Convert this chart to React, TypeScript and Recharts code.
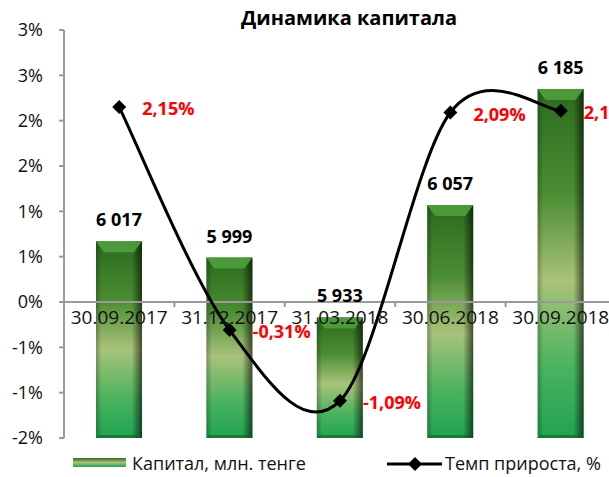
import React from "react";
import { ComposedChart, Bar, Line, XAxis, YAxis, ReferenceLine, LabelList } from "recharts";

const dates = ["30.09.2017", "31.12.2017", "31.03.2018", "30.06.2018", "30.09.2018"];
const capital = [6017, 5999, 5933, 6057, 6185];
const growth = [2.15, -0.31, -1.09, 2.09, 2.11];
const pctTicks = [-1.5, -1, -0.5, 0, 0.5, 1, 1.5, 2, 2.5, 3];
const capDomain = [5800, 6250];
const seriesNames = ["Капитал, млн. тенге", "Темп прироста, %"];

const data = dates.map((d, i) => ({ date: d, capital: capital[i], growth: growth[i] }));

const W = 622;
const H = 477;
const TOP = 30;
const BOTTOM = 39;
const XAXIS_H = 20;
const LEFT = 64;
const RIGHT = 6;
const PLOT_H = H - TOP - BOTTOM;
const CAT_W = (W - LEFT - RIGHT) / dates.length;
const PCT_MIN = pctTicks[0];
const PCT_MAX = pctTicks[pctTicks.length - 1];
const ZERO_Y = TOP + (PLOT_H * PCT_MAX) / (PCT_MAX - PCT_MIN);
const FONT = "'Open Sans', sans-serif";
const AXIS = "#9a9a9a";

// Excel style smoothing (catmull-rom through the points)
function excelCurve(context: any) {
  let pts: number[][] = [];
  return {
    areaStart() {},
    areaEnd() {},
    lineStart() {
      pts = [];
    },
    point(x: number, y: number) {
      pts.push([+x, +y]);
    },
    lineEnd() {
      if (!pts.length) return;
      context.moveTo(pts[0][0], pts[0][1]);
      for (let i = 0; i < pts.length - 1; i++) {
        const p0 = pts[i - 1] || pts[i];
        const p1 = pts[i];
        const p2 = pts[i + 1];
        const p3 = pts[i + 2] || p2;
        context.bezierCurveTo(
          p1[0] + (p2[0] - p0[0]) / 6,
          p1[1] + (p2[1] - p0[1]) / 6,
          p2[0] - (p3[0] - p1[0]) / 6,
          p2[1] - (p3[1] - p1[1]) / 6,
          p2[0],
          p2[1]
        );
      }
    },
  };
}

const roundPct = (v: number) => {
  const r = Math.sign(v) * Math.round(Math.abs(v));
  return `${r === 0 ? 0 : r}%`;
};
const fmtCap = (v: number) => String(v).replace(/\B(?=(\d{3})+(?!\d))/g, " ");
const fmtPct = (v: number) => `${v.toFixed(2).replace(".", ",")}%`;

const BarShape = (p: any) => {
  const { x, y, width: w, height: h } = p;
  if (!h || h <= 0) return null;
  const b = 8;
  return (
    <g>
      <rect x={x} y={y} width={w} height={h} fill="url(#barV)" />
      <rect x={x} y={y} width={w} height={h} fill="url(#barH)" />
      <polygon points={`${x},${y} ${x + w},${y} ${x + w - b},${y + b + 3} ${x + b},${y + b + 3}`} fill="#4f9e3c" opacity={0.9} />
      <polygon points={`${x},${y + h} ${x + w},${y + h} ${x + w - 3},${y + h - 3} ${x + 3},${y + h - 3}`} fill="#135c26" opacity={0.6} />
    </g>
  );
};

const CapLabel = (p: any) => (
  <text x={p.x + p.width / 2} y={p.y - 15} textAnchor="middle" fontFamily={FONT} fontWeight="bold" fontSize={18} fill="#000">
    {fmtCap(p.value)}
  </text>
);

const PctLabel = (p: any) => (
  <text x={p.x + 23} y={p.y + 1} dominantBaseline="central" fontFamily={FONT} fontWeight="bold" fontSize={18} fill="#ff0000">
    {fmtPct(p.value)}
  </text>
);

const Diamond = (p: any) => {
  const { cx, cy } = p;
  const r = 7;
  return <polygon points={`${cx},${cy - r} ${cx + r},${cy} ${cx},${cy + r} ${cx - r},${cy}`} fill="#000" />;
};

const DateTick = (p: any) => {
  const { x, payload, index } = p;
  return (
    <g>
      {index > 0 && (
        <line x1={x - CAT_W / 2} x2={x - CAT_W / 2} y1={ZERO_Y} y2={ZERO_Y + 5} stroke={AXIS} strokeWidth={2} />
      )}
      <text x={x} y={ZERO_Y + 22} textAnchor="middle" fontFamily={FONT} fontSize={19} fill="#111">
        {payload.value}
      </text>
    </g>
  );
};

const LegendBox = () => (
  <svg width={609} height={27} style={{ position: "absolute", left: 0, top: 449, display: "block" }}>
    <defs>
      <linearGradient id="legSw" x1="0" y1="0" x2="0" y2="1">
        <stop offset="0" stopColor="#2c6e22" />
        <stop offset="0.5" stopColor="#a8c27a" />
        <stop offset="1" stopColor="#23a052" />
      </linearGradient>
    </defs>
    <rect x={73} y={9} width={53} height={9} fill="url(#legSw)" />
    <text x={132} y={21} fontFamily={FONT} fontSize={18} fill="#111">
      {seriesNames[0]}
    </text>
    <line x1={387} x2={442} y1={15} y2={15} stroke="#000" strokeWidth={3} />
    <polygon points="415,8 422,15 415,22 408,15" fill="#000" />
    <text x={445} y={21} fontFamily={FONT} fontSize={18} fill="#111">
      {seriesNames[1]}
    </text>
  </svg>
);

export default function App() {
  return (
    <div style={{ position: "fixed", left: 0, top: 0, width: 609, height: 477, overflow: "hidden", background: "#fff" }}>
      <div
        style={{
          position: "absolute",
          left: 0,
          width: 698,
          top: 4,
          textAlign: "center",
          fontFamily: FONT,
          fontWeight: "bold",
          fontSize: 20,
          color: "#000",
          lineHeight: "28px",
        }}
      >
        Динамика капитала
      </div>
      <ComposedChart width={W} height={H} data={data} margin={{ top: TOP, right: RIGHT, bottom: BOTTOM - XAXIS_H, left: 0 }}>
        <defs>
          <linearGradient id="barV" x1="0" y1="0" x2="0" y2="1">
            <stop offset="0" stopColor="#2a6a1e" />
            <stop offset="0.3" stopColor="#4b8d33" />
            <stop offset="0.55" stopColor="#a9c27a" />
            <stop offset="0.8" stopColor="#49b35e" />
            <stop offset="1" stopColor="#20a253" />
          </linearGradient>
          <linearGradient id="barH" x1="0" y1="0" x2="1" y2="0">
            <stop offset="0" stopColor="#000" stopOpacity={0.25} />
            <stop offset="0.12" stopColor="#000" stopOpacity={0} />
            <stop offset="0.78" stopColor="#000" stopOpacity={0} />
            <stop offset="1" stopColor="#000" stopOpacity={0.6} />
          </linearGradient>
        </defs>
        <XAxis dataKey="date" height={XAXIS_H} axisLine={false} tickLine={false} interval={0} tick={<DateTick />} />
        <YAxis
          yAxisId="pct"
          orientation="left"
          width={LEFT}
          domain={[PCT_MIN, PCT_MAX]}
          ticks={pctTicks}
          interval={0}
          tickFormatter={roundPct}
          axisLine={{ stroke: AXIS, strokeWidth: 2 }}
          tickLine={{ stroke: AXIS, strokeWidth: 2 }}
          tickSize={5}
          tickMargin={16}
          tick={{ fill: "#111", fontSize: 18, fontFamily: FONT }}
        />
        <YAxis yAxisId="cap" orientation="right" hide domain={capDomain} allowDataOverflow />
        <Bar yAxisId="cap" dataKey="capital" name={seriesNames[0]} barSize={46} shape={<BarShape />} isAnimationActive={false}>
          <LabelList dataKey="capital" content={<CapLabel />} />
        </Bar>
        <ReferenceLine yAxisId="pct" y={0} stroke={AXIS} strokeWidth={2} />
        <Line
          yAxisId="pct"
          dataKey="growth"
          name={seriesNames[1]}
          type={excelCurve as any}
          stroke="#000"
          strokeWidth={3}
          dot={<Diamond />}
          activeDot={false}
          isAnimationActive={false}
        >
          <LabelList dataKey="growth" content={<PctLabel />} />
        </Line>
      </ComposedChart>
      <LegendBox />
    </div>
  );
}
